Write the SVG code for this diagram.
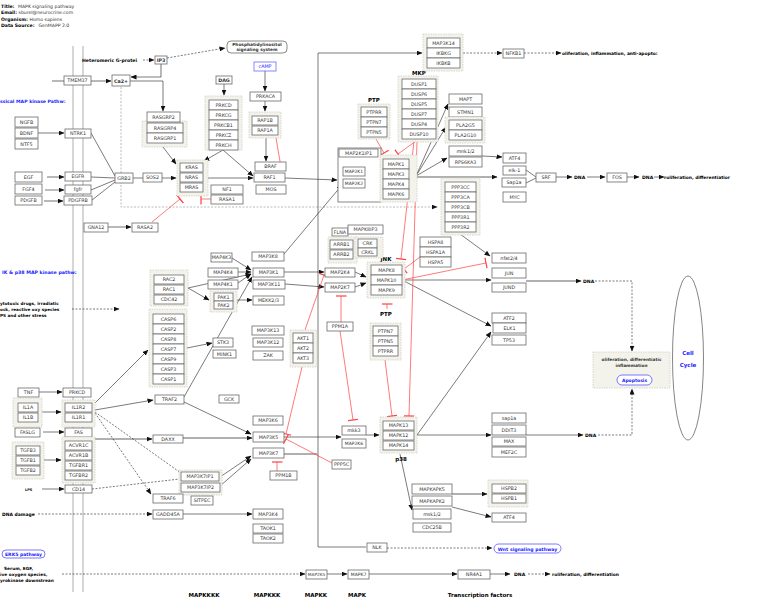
<svg xmlns="http://www.w3.org/2000/svg" width="771" height="608" viewBox="0 0 771 608">
<defs>
<marker id="a" markerWidth="6" markerHeight="5" refX="5.5" refY="2.5" orient="auto" markerUnits="userSpaceOnUse"><path d="M0,0 L6,2.5 L0,5z" fill="#111"/></marker>
<marker id="t" markerWidth="2" markerHeight="11" refX="1" refY="5.5" orient="auto" markerUnits="userSpaceOnUse"><path d="M1,0 V11" stroke="#ff4040" stroke-width="1.2"/></marker>
<style>
text{font-family:"DejaVu Sans","Liberation Sans",sans-serif}
.b{fill:#fff;stroke:#6a6a6a;stroke-width:0.8}
.gb{fill:#f3f3ec;stroke:#cfcfc4;stroke-width:0.8;stroke-dasharray:1.5 1}
.t{font-size:4.8px;text-anchor:middle;fill:#333}
.L{font-size:5.3px;font-weight:bold;fill:#000}
.Lc{font-size:5.5px;font-weight:bold;fill:#000;text-anchor:middle}
.h{font-size:4.6px;fill:#333}
.hb{font-size:4.6px;font-weight:bold;fill:#000}
.bt{fill:#1a1aff}
.c{fill:none;stroke:#222;stroke-width:0.6}
.ca{fill:none;stroke:#222;stroke-width:0.6;marker-end:url(#a)}
.d{stroke-dasharray:2 1.5}
.gr{fill:none;stroke:#b0b0b0;stroke-width:1.8}
.gra{fill:none;stroke:#b0b0b0;stroke-width:1.8;marker-end:url(#a)}
.r{fill:none;stroke:#ff4040;stroke-width:0.7;marker-end:url(#t)}
.mem{stroke:#999;stroke-width:0.8}
</style>
</defs>
<rect width="771" height="608" fill="#fff"/>

<g id="header">
<text x="1" y="7.5" class="hb">Title:</text><text x="18" y="7.5" class="h">MAPK signaling pathway</text>
<text x="1" y="14" class="hb">Email:</text><text x="18.5" y="14" class="h">sburel@neurocrine.com</text>
<text x="1" y="20.5" class="hb">Organism:</text><text x="29.5" y="20.5" class="h">Homo sapiens</text>
<text x="1" y="27" class="hb">Data Source:</text><text x="38.5" y="27" class="h">GenMAPP 2.0</text>
</g>

<g id="membrane">
<line x1="73" y1="46" x2="73" y2="592" class="mem"/>
<line x1="83" y1="46" x2="83" y2="592" class="mem"/>
</g>

<g id="connectors">
<path d="M161,64 V77" class="gr"/>
<path d="M161,77 H131" class="ca"/>
<path d="M130,81 H163 V111" class="ca"/>
<path d="M52,81 H64" class="gr"/>
<path d="M91,81 H111" class="gra"/>
<path d="M143,60 H154" class="ca d"/>
<path d="M167,58 L225,48" class="ca d"/>
<path d="M121,87 V207 H437" fill="none" stroke="#aaa" stroke-width="0.8" stroke-dasharray="2 1.5" marker-end="url(#a)"/>
<path d="M38,133 H64" class="ca"/>
<path d="M91,133 L115,176" class="c"/>
<path d="M91,177 L115,178" class="c"/>
<path d="M91,190 L115,180" class="c"/>
<path d="M92,200 L115,182" class="c"/>
<path d="M47,177 H64" class="gra"/>
<path d="M45,190 H64" class="ca"/>
<path d="M44,201 H63" class="gra"/>
<path d="M133,178 H143" class="c"/>
<path d="M162,178 H176" class="ca"/>
<path d="M163,147 L176,164" class="ca"/>
<path d="M224,84 V95" class="ca"/>
<path d="M223,150 L204,161" class="ca"/>
<path d="M223,150 L253,176" class="ca"/>
<path d="M208,178 H253" class="ca"/>
<path d="M265,71 V91" class="ca"/>
<path d="M265,101 V111" class="ca"/>
<path d="M266,138 V161" class="ca"/>
<path d="M285,178 L337,180" class="ca"/>
<path d="M108,227 H131" class="gra"/>
<path d="M366,547 H318 V53 H422" class="ca"/>
<path d="M284,454 H318" class="gr"/>
<path d="M463,53 H502" class="ca d"/>
<path d="M524,53 H561" class="ca d"/>
<path d="M416,176 L448,104" class="ca"/>
<path d="M416,176 L446,127" class="ca"/>
<path d="M416,176 L447,158" class="ca"/>
<path d="M416,177 H497" class="gra"/>
<path d="M482,156 L502,157" class="ca"/>
<path d="M526,170 L536,177" class="c"/>
<path d="M526,183 L536,178" class="c"/>
<path d="M556,177 H572" class="ca"/>
<path d="M587,177 H605" class="ca"/>
<path d="M627,177 H639" class="ca"/>
<path d="M654,177 H664" class="ca"/>
<path d="M284,254 L342,185" class="ca"/>
<path d="M232,258 L251,270" class="ca"/>
<path d="M238,272 H251" class="ca"/>
<path d="M238,283 L251,274" class="ca"/>
<path d="M188,288 L251,274" class="ca"/>
<path d="M188,288 L209,300" class="ca"/>
<path d="M237,300 H252" class="ca"/>
<path d="M187,348 L212,343" class="ca"/>
<path d="M184,397 L252,277" class="ca"/>
<path d="M284,272 H324" class="ca"/>
<path d="M285,284 L324,287" class="ca"/>
<path d="M355,272 L366,277" class="ca"/>
<path d="M355,287 L366,283" class="ca"/>
<path d="M402,280 H491" class="ca"/>
<path d="M402,280 L491,326" class="ca"/>
<path d="M460,234 L490,256" class="ca"/>
<path d="M526,281 H581" class="gra"/>
<path d="M595,281 H632 V351" class="ca d" stroke="#777"/>
<path d="M598,435 H632 V389" class="ca d" stroke="#777"/>
<path d="M417,435 H491" class="ca"/>
<path d="M526,435 H583" class="ca"/>
<path d="M417,435 L491,332" class="ca"/>
<path d="M400,454 L412,510" class="ca"/>
<path d="M452,494 H487" class="gra"/>
<path d="M452,507 L491,517" class="ca"/>
<path d="M366,435 H379" class="ca"/>
<path d="M284,437 H341" class="ca"/>
<path d="M39,392 H62" class="ca"/>
<path d="M95,403 L148,350" class="ca"/>
<path d="M95,410 L153,400" class="ca"/>
<path d="M42,412 H61" class="ca"/>
<path d="M43,432 H64" class="ca"/>
<path d="M92,439 H152" class="gra"/>
<path d="M183,438 H252" class="gra"/>
<path d="M44,460 H61" class="ca"/>
<path d="M42,489 H64" class="ca"/>
<path d="M95,412 L181,473" class="c d"/>
<path d="M95,413 L151,494" class="ca d"/>
<path d="M92,489 L180,479" class="c d"/>
<path d="M184,402 L251,434" class="ca"/>
<path d="M220,477 L251,456" class="ca"/>
<path d="M220,486 L251,459" class="ca"/>
<path d="M183,514 H252" class="ca"/>
<path d="M38,514 H152" class="ca d"/>
<path d="M72,309 H119" class="ca d"/>
<path d="M62,574 H305" class="ca d"/>
<path d="M327,574 H347" class="ca"/>
<path d="M369,574 H457" class="ca"/>
<path d="M490,574 H510" class="ca"/>
<path d="M528,574 H550" class="ca d"/>
<path d="M387,548 H492" class="ca d"/>
<path d="M276,138 L281,167" class="r"/>
<path d="M211,199 H201" class="r"/>
<path d="M152,222 L180,199" class="r"/>
<path d="M376,139 L384,153" class="r"/>
<path d="M416,141 L398,154" class="r"/>
<path d="M414,141 L401,259" class="r"/>
<path d="M417,141 L409,416" class="r"/>
<path d="M420,257 L404,269" class="r"/>
<path d="M402,280 L486,263" class="r"/>
<path d="M387,309 V304" class="r"/>
<path d="M385,360 L392,416" class="r"/>
<path d="M305,330 L324,275" class="r"/>
<path d="M302,367 L286,434" class="r"/>
<path d="M341,322 V296" class="r"/>
<path d="M340,331 L353,420" class="r"/>
<path d="M277,471 V462" class="r"/>
<path d="M332,463 L286,439" class="r"/>
</g>

<g id="labels">
<text x="82" y="61.5" class="L" style="font-size:4.6px">Heteromeric G-protei</text>
<text x="0" y="103" class="L bt" style="font-size:4.6px">ssical MAP kinase Pathw:</text>
<text x="2" y="274" class="L bt" style="font-size:4.7px">IK &amp; p38 MAP kinase pathw:</text>
<text x="0" y="305" class="L" style="font-size:4.2px">ytotoxic drugs, irradiatic</text>
<text x="0" y="311" class="L" style="font-size:4.2px">ock, reactive oxy species</text>
<text x="0" y="317" class="L" style="font-size:4.2px">PS and other stress</text>
<text x="2" y="516" class="L" style="font-size:4.5px">DNA damage</text>
<text x="25" y="491" class="L" style="font-size:3.5px">LPS</text>
<text x="4" y="570" class="L" style="font-size:4.3px">Serum, EGF,</text>
<text x="0" y="576" class="L" style="font-size:4.3px">ive oxygen species,</text>
<text x="0" y="582" class="L" style="font-size:4.3px">yrokinase downstrean</text>
<text x="574" y="179" class="L" style="font-size:4.6px">DNA</text>
<text x="642" y="179" class="L" style="font-size:4.6px">DNA</text>
<text x="583" y="283" class="L" style="font-size:4.6px">DNA</text>
<text x="585" y="437" class="L" style="font-size:4.6px">DNA</text>
<text x="514" y="576" class="L" style="font-size:4.6px">DNA</text>
<text x="562" y="55" class="L" style="font-size:4.4px">oliferation, inflammation, anti-apopto:</text>
<text x="664" y="179" class="L" style="font-size:4.4px">roliferation, differentiatior</text>
<text x="552" y="576" class="L" style="font-size:4.4px">roliferation, differentiation</text>
<text x="419" y="75" class="Lc">MKP</text>
<text x="374" y="102" class="Lc">PTP</text>
<text x="386" y="261" class="Lc">JNK</text>
<text x="386" y="316" class="Lc">PTP</text>
<text x="401" y="461" class="Lc">p38</text>
<text x="204" y="597" class="Lc">MAPKKKK</text>
<text x="267" y="597" class="Lc">MAPKKK</text>
<text x="316" y="597" class="Lc">MAPKK</text>
<text x="357" y="597" class="Lc">MAPK</text>
<text x="480" y="597" class="Lc">Transcription factors</text>
</g>

<g id="n-TMEM37"><rect x="64" y="76" width="27" height="9" class="b"/><text x="77.5" y="82.3" class="t">TMEM37</text></g>
<g id="n-Ca2"><rect x="112" y="75" width="18" height="11" class="b"/><text x="121" y="82.5" class="t" font-weight="bold" fill="#000">Ca2+</text></g>
<g id="n-IP3"><rect x="155" y="56" width="12" height="8" class="b"/><text x="161" y="61.8" class="t" font-weight="bold" fill="#000">IP3</text></g>
<g id="n-PIS"><rect x="227" y="41" width="60" height="12" rx="4" class="b"/><text x="257" y="46.3" class="t" font-weight="bold" fill="#000" style="font-size:4.3px">Phosphatidylinositol</text><text x="257" y="51.3" class="t" font-weight="bold" fill="#000" style="font-size:4.3px">signaling system</text></g>
<g id="n-DAG"><rect x="216" y="76" width="16" height="8" class="b"/><text x="224" y="81.8" class="t" font-weight="bold" fill="#000">DAG</text></g>
<g id="n-cAMP"><rect x="254" y="62" width="22" height="9" fill="#fff" stroke="#6a6aff" stroke-width="0.8"/><text x="265" y="68.3" class="t bt">cAMP</text></g>
<g id="n-PRKACA"><rect x="250" y="92" width="31" height="9" class="b"/><text x="265.5" y="98.3" class="t">PRKACA</text></g>
<g id="g-RAP1"><rect x="249" y="112" width="32" height="26" class="gb"/>
<g id="n-RAP1B"><rect x="252" y="116" width="26" height="9" class="b"/><text x="265" y="122.3" class="t">RAP1B</text></g>
<g id="n-RAP1A"><rect x="252" y="126" width="26" height="9" class="b"/><text x="265" y="132.3" class="t">RAP1A</text></g></g>
<g id="g-PRKC"><rect x="205" y="96" width="37" height="54" class="gb"/>
<g id="n-PRKCD"><rect x="209" y="100" width="29" height="10" class="b"/><text x="223.5" y="106.8" class="t">PRKCD</text></g>
<g id="n-PRKCG"><rect x="209" y="110" width="29" height="10" class="b"/><text x="223.5" y="116.8" class="t">PRKCG</text></g>
<g id="n-PRKCB1"><rect x="209" y="120" width="29" height="10" class="b"/><text x="223.5" y="126.8" class="t">PRKCB1</text></g>
<g id="n-PRKCZ"><rect x="209" y="130" width="29" height="10" class="b"/><text x="223.5" y="136.8" class="t">PRKCZ</text></g>
<g id="n-PRKCH"><rect x="209" y="140" width="29" height="10" class="b"/><text x="223.5" y="146.8" class="t">PRKCH</text></g></g>
<g id="g-RASGRP"><rect x="142" y="121" width="45" height="26" class="gb"/>
<g id="n-RASGRP2"><rect x="147" y="112" width="33" height="10" class="b"/><text x="163.5" y="118.8" class="t">RASGRP2</text></g>
<g id="n-RASGRP4"><rect x="147" y="123" width="36" height="10" class="b"/><text x="165" y="129.8" class="t">RASGRP4</text></g>
<g id="n-RASGRP1"><rect x="147" y="133" width="36" height="10" class="b"/><text x="165" y="139.8" class="t">RASGRP1</text></g></g>
<g id="n-NGFB"><rect x="15" y="117" width="23" height="10" class="b"/><text x="26.5" y="123.8" class="t">NGFB</text></g>
<g id="n-BDNF"><rect x="15" y="128" width="23" height="10" class="b"/><text x="26.5" y="134.8" class="t">BDNF</text></g>
<g id="n-NTF5"><rect x="15" y="139" width="23" height="10" class="b"/><text x="26.5" y="145.8" class="t">NTF5</text></g>
<g id="n-NTRK1"><rect x="65" y="129" width="26" height="9" class="b"/><text x="78" y="135.3" class="t">NTRK1</text></g>
<g id="n-EGF"><rect x="15" y="172" width="27" height="10" class="b"/><text x="28.5" y="178.8" class="t">EGF</text></g>
<g id="n-FGF4"><rect x="15" y="184" width="27" height="10" class="b"/><text x="28.5" y="190.8" class="t">FGF4</text></g>
<g id="n-PDGFB"><rect x="15" y="196" width="27" height="9" class="b"/><text x="28.5" y="202.3" class="t">PDGFB</text></g>
<g id="n-EGFR"><rect x="65" y="172" width="26" height="9" class="b"/><text x="78" y="178.3" class="t">EGFR</text></g>
<g id="n-fgfr"><rect x="65" y="185" width="26" height="9" class="b"/><text x="78" y="191.3" class="t">fgfr</text></g>
<g id="n-PDGFRB"><rect x="64" y="196" width="28" height="9" class="b"/><text x="78" y="202.3" class="t">PDGFRB</text></g>
<g id="n-GRB2"><rect x="115" y="173" width="18" height="10" class="b"/><text x="124" y="179.8" class="t">GRB2</text></g>
<g id="n-SOS2"><rect x="143" y="173" width="19" height="9" class="b"/><text x="152.5" y="179.3" class="t">SOS2</text></g>
<g id="g-RAS"><rect x="177" y="160" width="31" height="36" class="gb"/>
<g id="n-KRAS"><rect x="180" y="163" width="23" height="9" class="b"/><text x="191.5" y="169.3" class="t">KRAS</text></g>
<g id="n-NRAS"><rect x="180" y="173" width="23" height="9" class="b"/><text x="191.5" y="179.3" class="t">NRAS</text></g>
<g id="n-MRAS"><rect x="180" y="183" width="23" height="9" class="b"/><text x="191.5" y="189.3" class="t">MRAS</text></g></g>
<g id="n-NF1"><rect x="211" y="185" width="32" height="9" class="b"/><text x="227" y="191.3" class="t">NF1</text></g>
<g id="n-RASA1"><rect x="211" y="195" width="32" height="9" class="b"/><text x="227" y="201.3" class="t">RASA1</text></g>
<g id="n-BRAF"><rect x="255" y="162" width="31" height="9" class="b"/><text x="270.5" y="168.3" class="t">BRAF</text></g>
<g id="n-RAF1"><rect x="254" y="173" width="31" height="9" class="b"/><text x="269.5" y="179.3" class="t">RAF1</text></g>
<g id="n-MOS"><rect x="256" y="185" width="30" height="9" class="b"/><text x="271" y="191.3" class="t">MOS</text></g>
<g id="n-GNA12"><rect x="84" y="223" width="24" height="9" class="b"/><text x="96" y="229.3" class="t">GNA12</text></g>
<g id="n-RASA2"><rect x="132" y="223" width="26" height="9" class="b"/><text x="145" y="229.3" class="t">RASA2</text></g>
<g id="g-MAP2K"><rect x="338" y="148" width="43" height="54" class="b"/>
<g id="n-MAP2K1IP1"><rect x="339" y="149" width="39" height="8" class="b"/><text x="358.5" y="154.8" class="t">MAP2K1IP1</text></g>
<g id="n-MAP2K1"><rect x="343" y="167" width="22" height="9" class="b"/><text x="354" y="173.3" class="t" style="font-size:4.5px">MAP2K1</text></g>
<g id="n-MAP2K2"><rect x="343" y="179" width="22" height="9" class="b"/><text x="354" y="185.3" class="t" style="font-size:4.5px">MAP2K2</text></g></g>
<g id="g-ERK"><rect x="380" y="155" width="37" height="47" class="gb"/>
<g id="n-MAPK1"><rect x="383" y="159" width="26" height="10" class="b"/><text x="396" y="165.8" class="t">MAPK1</text></g>
<g id="n-MAPK3"><rect x="383" y="169" width="26" height="10" class="b"/><text x="396" y="175.8" class="t">MAPK3</text></g>
<g id="n-MAPK4"><rect x="383" y="179" width="26" height="10" class="b"/><text x="396" y="185.8" class="t">MAPK4</text></g>
<g id="n-MAPK6"><rect x="383" y="189" width="26" height="10" class="b"/><text x="396" y="195.8" class="t">MAPK6</text></g></g>
<g id="g-PTP1"><rect x="358" y="104" width="32" height="35" class="gb"/>
<g id="n-PTPRR"><rect x="361" y="107" width="26" height="10" class="b"/><text x="374" y="113.8" class="t">PTPRR</text></g>
<g id="n-PTPN7"><rect x="361" y="117" width="26" height="10" class="b"/><text x="374" y="123.8" class="t">PTPN7</text></g>
<g id="n-PTPN5"><rect x="361" y="127" width="26" height="10" class="b"/><text x="374" y="133.8" class="t">PTPN5</text></g></g>
<g id="g-MKP"><rect x="398" y="76" width="40" height="66" class="gb"/>
<g id="n-DUSP1"><rect x="402" y="79" width="34" height="10" class="b"/><text x="419" y="85.8" class="t">DUSP1</text></g>
<g id="n-DUSP6"><rect x="402" y="89" width="34" height="10" class="b"/><text x="419" y="95.8" class="t">DUSP6</text></g>
<g id="n-DUSP5"><rect x="402" y="99" width="34" height="10" class="b"/><text x="419" y="105.8" class="t">DUSP5</text></g>
<g id="n-DUSP7"><rect x="402" y="109" width="34" height="10" class="b"/><text x="419" y="115.8" class="t">DUSP7</text></g>
<g id="n-DUSP4"><rect x="402" y="119" width="34" height="10" class="b"/><text x="419" y="125.8" class="t">DUSP4</text></g>
<g id="n-DUSP10"><rect x="402" y="129" width="34" height="10" class="b"/><text x="419" y="135.8" class="t">DUSP10</text></g></g>
<g id="g-IKK"><rect x="423" y="34" width="40" height="37" class="gb"/>
<g id="n-MAP3K14"><rect x="427" y="38" width="33" height="10" class="b"/><text x="443.5" y="44.8" class="t">MAP3K14</text></g>
<g id="n-IKBKG"><rect x="427" y="48" width="33" height="10" class="b"/><text x="443.5" y="54.8" class="t">IKBKG</text></g>
<g id="n-IKBKB"><rect x="427" y="58" width="33" height="10" class="b"/><text x="443.5" y="64.8" class="t">IKBKB</text></g></g>
<g id="n-NFKB1"><rect x="503" y="49" width="21" height="9" class="b"/><text x="513.5" y="55.3" class="t">NFKB1</text></g>
<g id="n-MAPT"><rect x="449" y="94" width="33" height="10" class="b"/><text x="465.5" y="100.8" class="t">MAPT</text></g>
<g id="n-STMN1"><rect x="449" y="107" width="33" height="10" class="b"/><text x="465.5" y="113.8" class="t">STMN1</text></g>
<g id="g-PLA2G"><rect x="445" y="117" width="40" height="26" class="gb"/>
<g id="n-PLA2G5"><rect x="449" y="120" width="33" height="10" class="b"/><text x="465.5" y="126.8" class="t">PLA2G5</text></g>
<g id="n-PLA2G10"><rect x="449" y="130" width="33" height="10" class="b"/><text x="465.5" y="136.8" class="t">PLA2G10</text></g></g>
<g id="n-mnk12"><rect x="449" y="146" width="33" height="10" class="b"/><text x="465.5" y="152.8" class="t">mnk1/2</text></g>
<g id="n-RPS6KA3"><rect x="449" y="157" width="33" height="10" class="b"/><text x="465.5" y="163.8" class="t">RPS6KA3</text></g>
<g id="n-ATF4a"><rect x="503" y="153" width="23" height="10" class="b"/><text x="514.5" y="159.8" class="t">ATF4</text></g>
<g id="n-elk1"><rect x="503" y="166" width="23" height="9" class="b"/><text x="514.5" y="172.3" class="t">elk-1</text></g>
<g id="n-Sap1a"><rect x="502" y="178" width="24" height="9" class="b"/><text x="514" y="184.3" class="t">Sap1a</text></g>
<g id="n-SRF"><rect x="536" y="173" width="20" height="9" class="b"/><text x="546" y="179.3" class="t">SRF</text></g>
<g id="n-MYC"><rect x="503" y="192" width="23" height="10" class="b"/><text x="514.5" y="198.8" class="t">MYC</text></g>
<g id="n-FOS"><rect x="607" y="173" width="20" height="9" class="b"/><text x="617" y="179.3" class="t">FOS</text></g>
<g id="g-PPP3"><rect x="441" y="178" width="39" height="57" class="gb"/>
<g id="n-PPP3CC"><rect x="445" y="182" width="31" height="10" class="b"/><text x="460.5" y="188.8" class="t">PPP3CC</text></g>
<g id="n-PPP3CA"><rect x="445" y="192" width="31" height="10" class="b"/><text x="460.5" y="198.8" class="t">PPP3CA</text></g>
<g id="n-PPP3CB"><rect x="445" y="202" width="31" height="10" class="b"/><text x="460.5" y="208.8" class="t">PPP3CB</text></g>
<g id="n-PPP3R1"><rect x="445" y="212" width="31" height="10" class="b"/><text x="460.5" y="218.8" class="t">PPP3R1</text></g>
<g id="n-PPP3R2"><rect x="445" y="222" width="31" height="10" class="b"/><text x="460.5" y="228.8" class="t">PPP3R2</text></g></g>
<g id="n-FLNA"><rect x="332" y="228" width="16" height="8" class="b"/><text x="340" y="233.8" class="t">FLNA</text></g>
<g id="n-MAPK8IP3"><rect x="348" y="225" width="35" height="9" class="b"/><text x="365.5" y="231.3" class="t">MAPK8IP3</text></g>
<g id="g-ARRB"><rect x="328" y="237" width="29" height="26" class="gb"/>
<g id="n-ARRB1"><rect x="330" y="240" width="23" height="9" class="b"/><text x="341.5" y="246.3" class="t">ARRB1</text></g>
<g id="n-ARRB2"><rect x="330" y="250" width="23" height="9" class="b"/><text x="341.5" y="256.3" class="t">ARRB2</text></g></g>
<g id="g-CRK"><rect x="355" y="237" width="28" height="21" class="gb"/>
<g id="n-CRK"><rect x="358" y="239" width="19" height="9" class="b"/><text x="367.5" y="245.3" class="t">CRK</text></g>
<g id="n-CRKL"><rect x="358" y="248" width="19" height="8" class="b"/><text x="367.5" y="253.8" class="t">CRKL</text></g></g>
<g id="g-JNK"><rect x="367" y="262" width="38" height="36" class="gb"/>
<g id="n-MAPK8"><rect x="371" y="265" width="31" height="10" class="b"/><text x="386.5" y="271.8" class="t">MAPK8</text></g>
<g id="n-MAPK10"><rect x="371" y="275" width="31" height="10" class="b"/><text x="386.5" y="281.8" class="t">MAPK10</text></g>
<g id="n-MAPK9"><rect x="371" y="285" width="31" height="10" class="b"/><text x="386.5" y="291.8" class="t">MAPK9</text></g></g>
<g id="n-HSPA8"><rect x="420" y="237" width="31" height="10" class="b"/><text x="435.5" y="243.8" class="t">HSPA8</text></g>
<g id="n-HSPA1A"><rect x="420" y="247" width="31" height="10" class="b"/><text x="435.5" y="253.8" class="t">HSPA1A</text></g>
<g id="n-HSPA5"><rect x="420" y="257" width="31" height="10" class="b"/><text x="435.5" y="263.8" class="t">HSPA5</text></g>
<g id="n-nfat24"><rect x="492" y="253" width="34" height="10" class="b"/><text x="509" y="259.8" class="t">nfat2/4</text></g>
<g id="n-JUN"><rect x="492" y="268" width="34" height="10" class="b"/><text x="509" y="274.8" class="t">JUN</text></g>
<g id="n-JUND"><rect x="492" y="283" width="34" height="9" class="b"/><text x="509" y="289.3" class="t">JUND</text></g>
<g id="n-MAP2K4"><rect x="325" y="268" width="30" height="9" class="b"/><text x="340" y="274.3" class="t">MAP2K4</text></g>
<g id="n-MAP2K7"><rect x="325" y="283" width="30" height="9" class="b"/><text x="340" y="289.3" class="t">MAP2K7</text></g>
<g id="n-PPM1A"><rect x="327" y="322" width="26" height="9" class="b"/><text x="340" y="328.3" class="t">PPM1A</text></g>
<g id="g-PTP2"><rect x="370" y="323" width="31" height="37" class="gb"/>
<g id="n-PTPN7b"><rect x="373" y="326" width="25" height="10" class="b"/><text x="385.5" y="332.8" class="t">PTPN7</text></g>
<g id="n-PTPN5b"><rect x="373" y="336" width="25" height="10" class="b"/><text x="385.5" y="342.8" class="t">PTPN5</text></g>
<g id="n-PTPRRb"><rect x="373" y="346" width="25" height="10" class="b"/><text x="385.5" y="352.8" class="t">PTPRR</text></g></g>
<g id="n-ATF2"><rect x="492" y="313" width="34" height="10" class="b"/><text x="509" y="319.8" class="t">ATF2</text></g>
<g id="n-ELK1"><rect x="493" y="323" width="33" height="10" class="b"/><text x="509.5" y="329.8" class="t">ELK1</text></g>
<g id="n-TP53"><rect x="492" y="335" width="34" height="10" class="b"/><text x="509" y="341.8" class="t">TP53</text></g>
<g id="n-Prolif"><rect x="593" y="352" width="77" height="36" class="gb"/><text x="631.5" y="361" class="t" font-weight="bold" fill="#000" style="font-size:4.3px">oliferation, differentiatic</text><text x="631.5" y="367" class="t" font-weight="bold" fill="#000" style="font-size:4.3px">inflammation</text></g>
<g id="n-Apoptosis"><rect x="617" y="375" width="35" height="10" rx="5" fill="#fff" stroke="#5555ff" stroke-width="0.8"/><text x="634.5" y="381.8" class="t bt" font-weight="bold" style="font-size:4.5px">Apoptosis</text></g>
<g id="n-CellCycle"><ellipse cx="688" cy="358" rx="15.5" ry="82" fill="#fff" stroke="#666" stroke-width="0.8"/><text x="688" y="355" class="Lc bt">Cell</text><text x="688" y="366.5" class="Lc bt">Cycle</text></g>
<g id="n-MAP4K3"><rect x="211" y="253" width="21" height="9" class="b"/><text x="221.5" y="259.3" class="t">MAP4K3</text></g>
<g id="n-MAP3K8"><rect x="252" y="252" width="32" height="9" class="b"/><text x="268" y="258.3" class="t">MAP3K8</text></g>
<g id="n-MAP4K4"><rect x="208" y="268" width="30" height="9" class="b"/><text x="223" y="274.3" class="t">MAP4K4</text></g>
<g id="n-MAP3K1"><rect x="253" y="268" width="31" height="9" class="b"/><text x="268.5" y="274.3" class="t">MAP3K1</text></g>
<g id="n-MAP4K1"><rect x="208" y="280" width="30" height="9" class="b"/><text x="223" y="286.3" class="t">MAP4K1</text></g>
<g id="n-MAP3K11"><rect x="253" y="280" width="32" height="9" class="b"/><text x="269" y="286.3" class="t">MAP3K11</text></g>
<g id="g-PAK"><rect x="210" y="291" width="27" height="21" class="gb"/>
<g id="n-PAK1"><rect x="214" y="293" width="19" height="8" class="b"/><text x="223.5" y="298.8" class="t">PAK1</text></g>
<g id="n-PAK2"><rect x="214" y="301" width="19" height="8" class="b"/><text x="223.5" y="306.8" class="t">PAK2</text></g></g>
<g id="n-MEKK23"><rect x="253" y="296" width="31" height="9" class="b"/><text x="268.5" y="302.3" class="t">MEKK2/3</text></g>
<g id="g-RAC"><rect x="150" y="270" width="38" height="36" class="gb"/>
<g id="n-RAC2"><rect x="154" y="275" width="30" height="9" class="b"/><text x="169" y="281.3" class="t">RAC2</text></g>
<g id="n-RAC1"><rect x="154" y="285" width="30" height="9" class="b"/><text x="169" y="291.3" class="t">RAC1</text></g>
<g id="n-CDC42"><rect x="154" y="295" width="30" height="9" class="b"/><text x="169" y="301.3" class="t">CDC42</text></g></g>
<g id="g-CASP"><rect x="149" y="309" width="38" height="78" class="gb"/>
<g id="n-CASP6"><rect x="153" y="314" width="31" height="10" class="b"/><text x="168.5" y="320.8" class="t">CASP6</text></g>
<g id="n-CASP2"><rect x="153" y="324" width="31" height="10" class="b"/><text x="168.5" y="330.8" class="t">CASP2</text></g>
<g id="n-CASP8"><rect x="153" y="334" width="31" height="10" class="b"/><text x="168.5" y="340.8" class="t">CASP8</text></g>
<g id="n-CASP7"><rect x="153" y="344" width="31" height="10" class="b"/><text x="168.5" y="350.8" class="t">CASP7</text></g>
<g id="n-CASP9"><rect x="153" y="354" width="31" height="10" class="b"/><text x="168.5" y="360.8" class="t">CASP9</text></g>
<g id="n-CASP3"><rect x="153" y="364" width="31" height="10" class="b"/><text x="168.5" y="370.8" class="t">CASP3</text></g>
<g id="n-CASP1"><rect x="153" y="374" width="31" height="10" class="b"/><text x="168.5" y="380.8" class="t">CASP1</text></g></g>
<g id="n-MAP3K13"><rect x="252" y="326" width="32" height="9" class="b"/><text x="268" y="332.3" class="t">MAP3K13</text></g>
<g id="n-MAP3K12"><rect x="253" y="338" width="30" height="9" class="b"/><text x="268" y="344.3" class="t">MAP3K12</text></g>
<g id="n-ZAK"><rect x="253" y="351" width="30" height="9" class="b"/><text x="268" y="357.3" class="t">ZAK</text></g>
<g id="n-STK3"><rect x="213" y="338" width="20" height="9" class="b"/><text x="223" y="344.3" class="t">STK3</text></g>
<g id="n-MINK1"><rect x="213" y="350" width="23" height="8" class="b"/><text x="224.5" y="355.8" class="t">MINK1</text></g>
<g id="g-AKT"><rect x="290" y="330" width="27" height="37" class="gb"/>
<g id="n-AKT1"><rect x="293" y="333" width="20" height="10" class="b"/><text x="303" y="339.8" class="t">AKT1</text></g>
<g id="n-AKT2"><rect x="293" y="343" width="20" height="10" class="b"/><text x="303" y="349.8" class="t">AKT2</text></g>
<g id="n-AKT3"><rect x="293" y="353" width="20" height="10" class="b"/><text x="303" y="359.8" class="t">AKT3</text></g></g>
<g id="n-TRAF2"><rect x="155" y="395" width="29" height="9" class="b"/><text x="169.5" y="401.3" class="t">TRAF2</text></g>
<g id="n-GCK"><rect x="219" y="395" width="20" height="8" class="b"/><text x="229" y="400.8" class="t">GCK</text></g>
<g id="n-TNF"><rect x="18" y="388" width="21" height="9" class="b"/><text x="28.5" y="394.3" class="t">TNF</text></g>
<g id="n-PRKCD2"><rect x="63" y="388" width="28" height="9" class="b"/><text x="77" y="394.3" class="t">PRKCD</text></g>
<g id="g-IL1"><rect x="13" y="398" width="29" height="29" class="gb"/>
<g id="n-IL1A"><rect x="18" y="403" width="20" height="9" class="b"/><text x="28" y="409.3" class="t">IL1A</text></g>
<g id="n-IL1B"><rect x="18" y="413" width="20" height="9" class="b"/><text x="28" y="419.3" class="t">IL1B</text></g></g>
<g id="g-IL1R"><rect x="62" y="400" width="33" height="27" class="gb"/>
<g id="n-IL1R2"><rect x="65" y="403" width="27" height="9" class="b"/><text x="78.5" y="409.3" class="t">IL1R2</text></g>
<g id="n-IL1R1"><rect x="65" y="413" width="27" height="9" class="b"/><text x="78.5" y="419.3" class="t">IL1R1</text></g></g>
<g id="n-FASLG"><rect x="15" y="428" width="25" height="9" class="b"/><text x="27.5" y="434.3" class="t">FASLG</text></g>
<g id="n-FAS"><rect x="65" y="428" width="27" height="9" class="b"/><text x="78.5" y="434.3" class="t">FAS</text></g>
<g id="g-TGFB"><rect x="12" y="442" width="32" height="37" class="gb"/>
<g id="n-TGFB3"><rect x="16" y="446" width="24" height="9" class="b"/><text x="28" y="452.3" class="t">TGFB3</text></g>
<g id="n-TGFB1"><rect x="16" y="456" width="24" height="9" class="b"/><text x="28" y="462.3" class="t">TGFB1</text></g>
<g id="n-TGFB2"><rect x="16" y="466" width="24" height="9" class="b"/><text x="28" y="472.3" class="t">TGFB2</text></g></g>
<g id="g-ACVR"><rect x="62" y="437" width="33" height="46" class="gb"/>
<g id="n-ACVR1C"><rect x="65" y="441" width="27" height="9" class="b"/><text x="78.5" y="447.3" class="t">ACVR1C</text></g>
<g id="n-ACVR1B"><rect x="65" y="451" width="27" height="9" class="b"/><text x="78.5" y="457.3" class="t">ACVR1B</text></g>
<g id="n-TGFBR1"><rect x="65" y="461" width="27" height="9" class="b"/><text x="78.5" y="467.3" class="t">TGFBR1</text></g>
<g id="n-TGFBR2"><rect x="65" y="471" width="27" height="9" class="b"/><text x="78.5" y="477.3" class="t">TGFBR2</text></g></g>
<g id="n-CD14"><rect x="65" y="485" width="27" height="8" class="b"/><text x="78.5" y="490.8" class="t">CD14</text></g>
<g id="n-DAXX"><rect x="153" y="435" width="30" height="8" class="b"/><text x="168" y="440.8" class="t">DAXX</text></g>
<g id="n-MAP3K6"><rect x="253" y="416" width="30" height="9" class="b"/><text x="268" y="422.3" class="t">MAP3K6</text></g>
<g id="n-MAP3K5"><rect x="253" y="432" width="31" height="10" class="b"/><text x="268.5" y="438.8" class="t">MAP3K5</text></g>
<g id="n-MAP3K7"><rect x="253" y="448" width="31" height="10" class="b"/><text x="268.5" y="454.8" class="t">MAP3K7</text></g>
<g id="n-PPM1B"><rect x="270" y="471" width="27" height="9" class="b"/><text x="283.5" y="477.3" class="t">PPM1B</text></g>
<g id="n-PPP5C"><rect x="332" y="460" width="19" height="9" class="b"/><text x="341.5" y="466.3" class="t">PPP5C</text></g>
<g id="n-mkk3"><rect x="342" y="426" width="24" height="9" class="b"/><text x="354" y="432.3" class="t">mkk3</text></g>
<g id="n-MAP2K6"><rect x="342" y="439" width="24" height="9" class="b"/><text x="354" y="445.3" class="t" style="font-size:4.5px">MAP2K6</text></g>
<g id="g-p38"><rect x="380" y="417" width="37" height="36" class="gb"/>
<g id="n-MAPK13"><rect x="383" y="421" width="31" height="9" class="b"/><text x="398.5" y="427.3" class="t">MAPK13</text></g>
<g id="n-MAPK12"><rect x="383" y="431" width="31" height="9" class="b"/><text x="398.5" y="437.3" class="t">MAPK12</text></g>
<g id="n-MAPK14"><rect x="383" y="441" width="31" height="9" class="b"/><text x="398.5" y="447.3" class="t">MAPK14</text></g></g>
<g id="n-sap1a"><rect x="492" y="413" width="34" height="10" class="b"/><text x="509" y="419.8" class="t">sap1a</text></g>
<g id="n-DDIT3"><rect x="492" y="425" width="34" height="10" class="b"/><text x="509" y="431.8" class="t">DDIT3</text></g>
<g id="n-MAX"><rect x="492" y="437" width="34" height="9" class="b"/><text x="509" y="443.3" class="t">MAX</text></g>
<g id="n-MEF2C"><rect x="492" y="447" width="34" height="10" class="b"/><text x="509" y="453.8" class="t">MEF2C</text></g>
<g id="g-TAB"><rect x="179" y="470" width="43" height="25" class="gb"/>
<g id="n-MAP3K7IP1"><rect x="181" y="472" width="38" height="9" class="b"/><text x="200" y="478.3" class="t">MAP3K7IP1</text></g>
<g id="n-MAP3K7IP2"><rect x="181" y="483" width="39" height="9" class="b"/><text x="200.5" y="489.3" class="t">MAP3K7IP2</text></g></g>
<g id="n-SITPEC"><rect x="191" y="496" width="22" height="9" class="b"/><text x="202" y="502.3" class="t">SITPEC</text></g>
<g id="n-TRAF6"><rect x="153" y="494" width="30" height="9" class="b"/><text x="168" y="500.3" class="t">TRAF6</text></g>
<g id="n-GADD45A"><rect x="153" y="510" width="30" height="9" class="b"/><text x="168" y="516.3" class="t">GADD45A</text></g>
<g id="n-MAP3K4"><rect x="253" y="509" width="30" height="10" class="b"/><text x="268" y="515.8" class="t">MAP3K4</text></g>
<g id="n-TAOK1"><rect x="253" y="524" width="30" height="9" class="b"/><text x="268" y="530.3" class="t">TAOK1</text></g>
<g id="n-TAOK2"><rect x="253" y="534" width="30" height="9" class="b"/><text x="268" y="540.3" class="t">TAOK2</text></g>
<g id="n-MAPKAPK5"><rect x="412" y="484" width="40" height="10" class="b"/><text x="432" y="490.8" class="t">MAPKAPK5</text></g>
<g id="n-MAPKAPK2"><rect x="412" y="496" width="40" height="10" class="b"/><text x="432" y="502.8" class="t">MAPKAPK2</text></g>
<g id="n-msk12"><rect x="413" y="509" width="38" height="10" class="b"/><text x="432" y="515.8" class="t">msk1/2</text></g>
<g id="n-CDC25B"><rect x="413" y="523" width="38" height="9" class="b"/><text x="432" y="529.3" class="t">CDC25B</text></g>
<g id="g-HSPB"><rect x="488" y="480" width="40" height="27" class="gb"/>
<g id="n-HSPB2"><rect x="492" y="484" width="34" height="9" class="b"/><text x="509" y="490.3" class="t">HSPB2</text></g>
<g id="n-HSPB1"><rect x="492" y="494" width="34" height="9" class="b"/><text x="509" y="500.3" class="t">HSPB1</text></g></g>
<g id="n-ATF4b"><rect x="492" y="513" width="34" height="9" class="b"/><text x="509" y="519.3" class="t">ATF4</text></g>
<g id="n-NLK"><rect x="367" y="543" width="20" height="9" class="b"/><text x="377" y="549.3" class="t">NLK</text></g>
<g id="n-Wnt"><rect x="494" y="544" width="67" height="9" rx="4.5" fill="#fff" stroke="#5555ff" stroke-width="0.8"/><text x="527.5" y="550.5" class="t bt" font-weight="bold" style="font-size:4.6px">Wnt signaling pathway</text></g>
<g id="n-ERK5"><rect x="2" y="550" width="43" height="8" rx="4" fill="#fff" stroke="#5555ff" stroke-width="0.8"/><text x="23.5" y="556" class="t bt" font-weight="bold" style="font-size:4.6px">ERK5 pathway</text></g>
<g id="n-MAP2K5"><rect x="306" y="570" width="21" height="9" class="b"/><text x="316.5" y="576.3" class="t" style="font-size:4.3px">MAP2K5</text></g>
<g id="n-MAPK7"><rect x="348" y="570" width="21" height="9" class="b"/><text x="358.5" y="576.3" class="t" style="font-size:4.5px">MAPK7</text></g>
<g id="n-NR4A1"><rect x="458" y="570" width="32" height="9" class="b"/><text x="474" y="576.3" class="t">NR4A1</text></g>
</svg>
